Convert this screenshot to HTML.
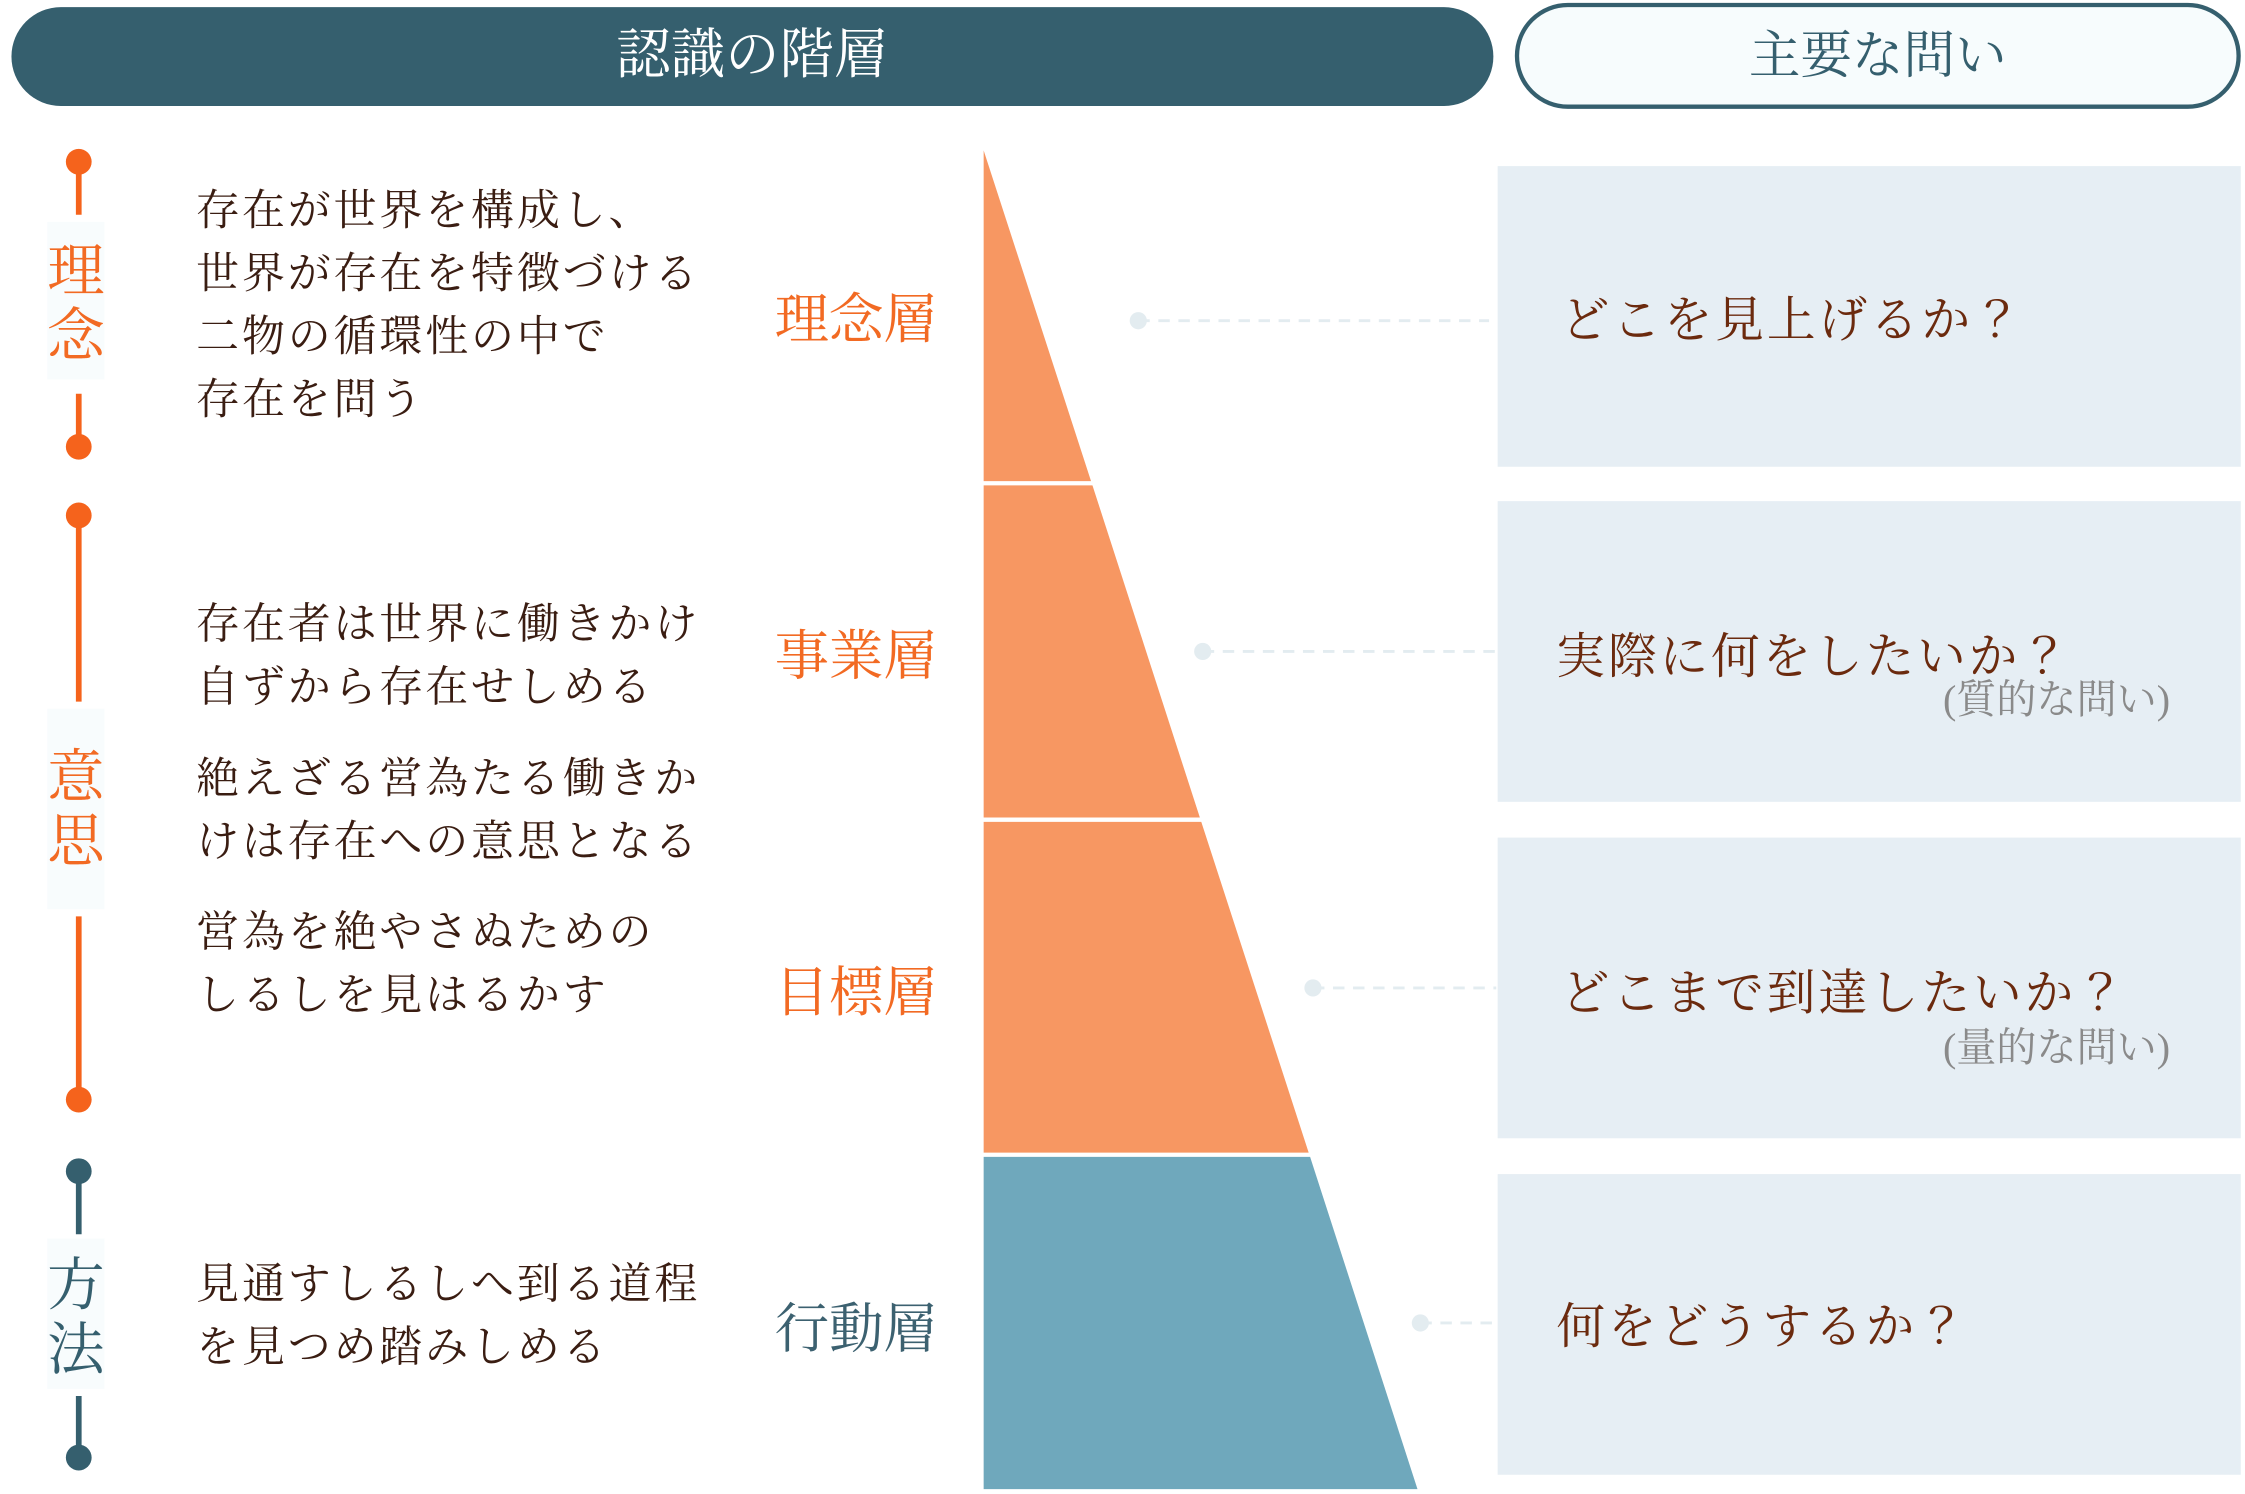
<!DOCTYPE html>
<html><head><meta charset="utf-8"><style>
html,body{margin:0;padding:0;background:#fff;overflow:hidden}
#w{width:2245px;height:1494px;position:relative;overflow:hidden}
#s{position:absolute;left:0;top:0;width:1568px;height:1044px;transform:scale(1.4318);transform-origin:0 0;font-family:"Liberation Serif","Noto Serif CJK JP","Noto Serif CJK SC",serif}
.a{position:absolute;white-space:nowrap}
.body{color:#3a1d12;font-size:30px;line-height:44px;letter-spacing:2px}
.lay{font-size:38px;color:#f26a23}
.q{color:#6b2a0e;font-size:34px;letter-spacing:2px}
.sub{color:#8a8a8a;font-size:28px}
.box{position:absolute;left:1046px;width:519px;height:210px;background:#e6eef4}
.v{position:absolute;width:40px;text-align:center;font-size:40px;line-height:45px;background:#f8fcfd}
</style></head><body><div id="w"><div id="s">
<div class="a" style="left:8px;top:5px;width:1035px;height:69px;border-radius:35px;background:#355f6e;color:#fff;font-size:38px;line-height:69px;text-align:center">認識の階層</div>
<div class="a" style="left:1058px;top:2px;width:501px;height:68px;border:3px solid #355f6e;border-radius:37px;background:#f7fcfd;color:#355f6e;font-size:36px;line-height:68px;text-align:center">主要な問い</div>

<svg class="a" style="left:0;top:0" width="1568" height="1044">
<g stroke="#f5631c" stroke-width="4" fill="#f5631c">
<line x1="55" y1="113" x2="55" y2="150"/><line x1="55" y1="275" x2="55" y2="312"/>
<circle cx="55" cy="113" r="9" stroke="none"/><circle cx="55" cy="312" r="9" stroke="none"/>
<line x1="55" y1="360" x2="55" y2="490"/><line x1="55" y1="640" x2="55" y2="768"/>
<circle cx="55" cy="360" r="9" stroke="none"/><circle cx="55" cy="768" r="9" stroke="none"/>
</g>
<g stroke="#355f6e" stroke-width="4" fill="#355f6e">
<line x1="55" y1="818" x2="55" y2="862"/><line x1="55" y1="975" x2="55" y2="1018"/>
<circle cx="55" cy="818" r="9" stroke="none"/><circle cx="55" cy="1018" r="9" stroke="none"/>
</g>
<polygon points="687,105 762,336 687,336" fill="#f79762"/>
<polygon points="687,339 763,339 838,571 687,571" fill="#f79762"/>
<polygon points="687,574 839,574 914,805 687,805" fill="#f79762"/>
<polygon points="687,808 915,808 990,1040 687,1040" fill="#6fa8bc"/>
<g stroke="#e3ecf0" stroke-width="2" stroke-dasharray="8,6">
<line x1="795" y1="224" x2="1040" y2="224"/><line x1="840" y1="455" x2="1045" y2="455"/>
<line x1="917" y1="690" x2="1045" y2="690"/><line x1="992" y1="924" x2="1045" y2="924"/>
</g>
<g fill="#e3ecf0"><circle cx="795" cy="224" r="6"/><circle cx="840" cy="455" r="6"/><circle cx="917" cy="690" r="6"/><circle cx="992" cy="924" r="6"/></g>
</svg>

<div class="v" style="left:33px;top:155px;height:110px;padding-top:12px;box-sizing:border-box;color:#f26a23">理<br>念</div>
<div class="v" style="left:33px;top:495px;height:140px;padding-top:25px;box-sizing:border-box;color:#f26a23">意<br>思</div>
<div class="v" style="left:33px;top:865px;height:105px;padding-top:10px;box-sizing:border-box;color:#355f6e">方<br>法</div>

<div class="a body" style="left:137px;top:126px">存在が世界を構成し、<br>世界が存在を特徴づける<br>二物の循環性の中で<br>存在を問う</div>
<div class="a body" style="left:137px;top:415px">存在者は世界に働きかけ<br>自ずから存在せしめる</div>
<div class="a body" style="left:137px;top:523px">絶えざる営為たる働きか<br>けは存在への意思となる</div>
<div class="a body" style="left:137px;top:630px">営為を絶やさぬための<br>しるしを見はるかす</div>
<div class="a body" style="left:137px;top:876px">見通すしるしへ到る道程<br>を見つめ踏みしめる</div>

<div class="a lay" style="left:541px;top:192px">理念層</div>
<div class="a lay" style="left:541px;top:427px">事業層</div>
<div class="a lay" style="left:541px;top:662px">目標層</div>
<div class="a lay" style="left:541px;top:897px;color:#3c6170">行動層</div>

<div class="box" style="top:116px"></div>
<div class="box" style="top:350px"></div>
<div class="box" style="top:585px"></div>
<div class="box" style="top:820px"></div>
<div class="a q" style="left:1090px;top:196px">どこを見上げるか？</div>
<div class="a q" style="left:1087px;top:431px">実際に何をしたいか？</div>
<div class="a sub" style="left:1357px;top:467px">(質的な問い)</div>
<div class="a q" style="left:1090px;top:666px">どこまで到達したいか？</div>
<div class="a sub" style="left:1357px;top:710px">(量的な問い)</div>
<div class="a q" style="left:1087px;top:899px">何をどうするか？</div>
</div></div></body></html>
